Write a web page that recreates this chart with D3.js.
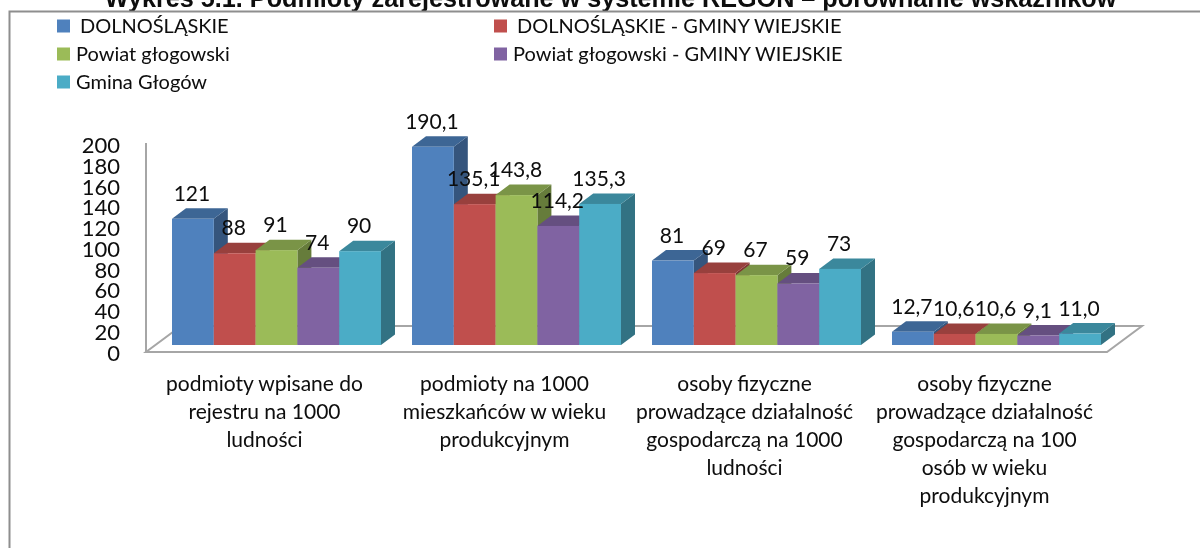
<!DOCTYPE html>
<html lang="pl"><head><meta charset="utf-8">
<script src="https://cdnjs.cloudflare.com/ajax/libs/d3/7.8.5/d3.min.js"></script>
<style>html,body{margin:0;padding:0;background:#fff;overflow:hidden}svg{display:block}text{fill:#0a0a0a}</style>
</head><body><svg id="c" width="1200" height="548"></svg>
<script>
const titleText = "Wykres 5.1. Podmioty zarejestrowane w systemie REGON – porównanie wskaźników";
const seriesNames = ["DOLNOŚLĄSKIE","DOLNOŚLĄSKIE - GMINY WIEJSKIE","Powiat głogowski","Powiat głogowski - GMINY WIEJSKIE","Gmina Głogów"];
const seriesColors = ["#4f81bd","#c0504d","#9bbb59","#8064a2","#4bacc6"];
const categories = ["c1","c2","c3","c4"];
const categoryLines = [
  ["podmioty wpisane do","rejestru na 1000","ludności"],
  ["podmioty na 1000","mieszkańców w wieku","produkcyjnym"],
  ["osoby fizyczne","prowadzące działalność","gospodarczą na 1000","ludności"],
  ["osoby fizyczne","prowadzące działalność","gospodarczą na 100","osób w wieku","produkcyjnym"]
];
const decimals = [0,1,0,1];
const dolnoslaskie = [121,190.1,81,12.7];
const dolnoslaskieGminy = [88,135.1,69,10.6];
const powiat = [91,143.8,67,10.6];
const powiatGminy = [74,114.2,59,9.1];
const gmina = [90,135.3,73,11.0];
const seriesValues = [dolnoslaskie,dolnoslaskieGminy,powiat,powiatGminy,gmina];
const yTicks = [0,20,40,60,80,100,120,140,160,180,200];

const FONT = "Lato, 'Open Sans', sans-serif";
const svg = d3.select("#c");
const defs = svg.append("defs");
defs.append("filter").attr("id","soft").attr("x","-5%").attr("y","-5%").attr("width","110%").attr("height","110%")
  .append("feGaussianBlur").attr("stdDeviation",0.55);
const root = svg.append("g").attr("filter","url(#soft)");
const fmt = (v,c)=>d3.format("."+decimals[c]+"f")(v).replace(".",",");

// title and frame
root.append("text").attr("x",610.5).attr("y",7).attr("text-anchor","middle")
  .attr("font-family","'Liberation Sans',Arial,sans-serif").attr("font-weight","bold").attr("font-size",25.2).text(titleText);
root.append("path").attr("d","M9.5 548V11.5H1200").attr("fill","none").attr("stroke","#8e8e8e").attr("stroke-width",2);

// scales
const y = d3.scaleLinear().domain([0,200]).range([345,136.5]);
const x0 = d3.scaleBand().domain(categories).range([156.5,1116.5]);
const x1 = d3.scaleBand().domain(seriesNames).range([15.5,224.5]);
const DX=14, DY=10.5, FLOOR_Y=352, FLOOR_BACK=26, FLOOR_DX=35;
const grey="#a6a6a6";

// axis and floor
root.append("path").attr("d",d3.line()([[146,143],[146,FLOOR_Y]])).attr("stroke",grey).attr("stroke-width",2).attr("fill","none");
root.append("path").attr("d",d3.line()([[146,FLOOR_Y],[1107,FLOOR_Y],[1107+FLOOR_DX,FLOOR_Y-FLOOR_BACK],[146+FLOOR_DX,FLOOR_Y-FLOOR_BACK]])+"Z")
  .attr("fill","#fff").attr("stroke",grey).attr("stroke-width",2);
const yLab = root.append("g");
yLab.selectAll("text").data(yTicks).join("text")
  .attr("x",120).attr("y",(d,i)=>y(0)+8+7.5 - i*20.75 ).attr("text-anchor","end")
  .attr("font-family",FONT).attr("font-size",22).text(d=>d);

// bars
const shade=(c,k)=>{const r=d3.rgb(c);return d3.rgb(r.r*k,r.g*k,r.b*k).formatHex();};
const bars = root.append("g");
categories.forEach((cat,c)=>{
  seriesNames.forEach((s,i)=>{
    const v=seriesValues[i][c], col=seriesColors[i];
    const xl=x0(cat)+x1(s), w=x1.bandwidth(), t=y(v), b=y(0);
    const g=bars.append("g");
    g.append("path").attr("d",d3.line()([[xl+w,t],[xl+w+DX,t-DY],[xl+w+DX,b-DY],[xl+w,b]])+"Z").attr("fill",shade(col,0.66));
    g.append("path").attr("d",d3.line()([[xl,t],[xl+DX,t-DY],[xl+w+DX,t-DY],[xl+w,t]])+"Z").attr("fill",shade(col,0.79));
    g.append("rect").attr("x",xl).attr("y",t).attr("width",w).attr("height",b-t).attr("fill",col);
  });
});
// data labels
const labels = root.append("g");
categories.forEach((cat,c)=>{
  seriesNames.forEach((s,i)=>{
    const v=seriesValues[i][c];
    labels.append("text").attr("x",x0(cat)+x1(s)+x1.bandwidth()/2-1).attr("y",y(v)-18)
      .attr("text-anchor","middle").attr("font-family",FONT).attr("font-size",21).text(fmt(v,c));
  });
});
// category labels
categories.forEach((cat,c)=>{
  const cx=x0(cat)+x1.bandwidth()*2.5+x1.range()[0]-12;
  const t=root.append("text").attr("text-anchor","middle").attr("font-family",FONT).attr("font-size",21);
  categoryLines[c].forEach((ln,j)=>t.append("tspan").attr("x",cx).attr("y",391+j*28.1).text(ln));
});
// legend
const legX=[57,494], legTextX=[[80,517],[76,513],[76]];
seriesNames.forEach((s,i)=>{
  const row=Math.floor(i/2), col=i%2, cy=26+row*28;
  root.append("rect").attr("x",legX[col]).attr("y",cy-6.5).attr("width",13).attr("height",13).attr("fill",seriesColors[i]);
  root.append("text").attr("x",legTextX[row][col]).attr("y",cy+6.5).attr("font-family",FONT).attr("font-size",20).text(s);
});
</script></body></html>
